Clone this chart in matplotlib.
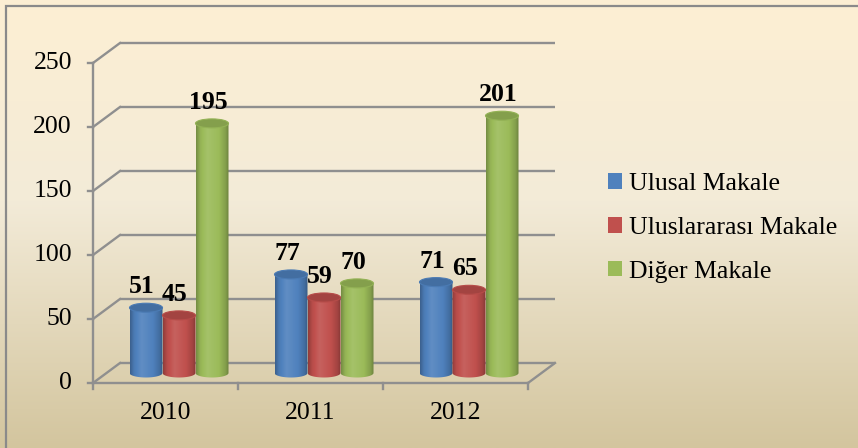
import numpy as np
import matplotlib
matplotlib.use("Agg")
import matplotlib.pyplot as plt
from matplotlib.patches import Ellipse, Rectangle, Patch, PathPatch
from matplotlib.path import Path
from matplotlib.colors import to_rgb

plt.rcParams['font.family'] = ['Liberation Serif', 'DejaVu Serif']

# --- data ---
years = ["2010", "2011", "2012"]
series = ["Ulusal Makale", "Uluslararası Makale", "Diğer Makale"]
ulusal = [51, 77, 71]
uluslararasi = [45, 59, 65]
diger = [195, 70, 201]
colors = ["#4F81BD", "#C0504D", "#9BBB59"]
yticks = [0, 50, 100, 150, 200, 250]

values = [ulusal, uluslararasi, diger]

# --- figure & pseudo 3D geometry ---
W, H = 858, 448
fig = plt.figure(figsize=(W / 100, H / 100), dpi=100)
fig.patch.set_facecolor("white")

# background gradient
bg = fig.add_axes([0, 0, 1, 1], zorder=0)
bg.set_axis_off()
stops = np.array([[253, 239, 211], [243, 235, 216], [211, 197, 158]]) / 255
pos = np.array([0.0, 0.45, 1.0])
yy = np.linspace(0, 1, 300)
grad = np.stack([np.interp(yy, pos, stops[:, c]) for c in range(3)], axis=1)
bg.imshow(grad[:, None, :], aspect="auto", extent=[0, 1, 0, 1], origin="upper")
bg.set_xlim(0, 1)
bg.set_ylim(0, 1)
bg.add_patch(Rectangle((6 / W, -0.1), 1.2, 1 - 6 / H + 0.1, fill=False,
                       edgecolor="#8a8a8a", lw=1.6, transform=bg.transAxes))

ax = fig.add_axes([0, 0, 1, 1], zorder=1)
ax.set_axis_off()
ax.patch.set_alpha(0)
# front plane: x 0..3 -> px 93..528, y 0..250 -> px 383..63
px_per_cat = 145.0
px_per_val = 1.28
ax.set_xlim(-93 / px_per_cat, (W - 93) / px_per_cat)
ax.set_ylim((383 - H) / px_per_val, 383 / px_per_val)

DX = 27 / px_per_cat
DY = 20 / px_per_val
grid_c = "#8f8f8f"
n = len(years)
fs = 18.5

for v in yticks:
    ax.plot([DX, n + DX], [v + DY, v + DY], color=grid_c, lw=1.7, zorder=2, solid_capstyle="butt")
    ax.plot([0, DX], [v, v + DY], color=grid_c, lw=1.7, zorder=2)
    ax.plot([-5 / px_per_cat, 0], [v, v], color=grid_c, lw=1.7, zorder=2)
    ax.text(-21 / px_per_cat, v, str(v), ha="right", va="center", fontsize=fs)
ax.plot([0, 0], [0, yticks[-1]], color=grid_c, lw=1.7, zorder=2)
ax.plot([0, n], [0, 0], color=grid_c, lw=1.7, zorder=2)
ax.plot([n, n + DX], [0, DY], color=grid_c, lw=1.7, zorder=2)
for i in range(n + 1):
    ax.plot([i, i], [0, -6 / px_per_val], color=grid_c, lw=1.7, zorder=2)
for i, y in enumerate(years):
    ax.text(i + 0.5, -30 / px_per_val, y, ha="center", va="center", fontsize=fs)


def shade(col, f):
    c = np.array(to_rgb(col))
    if f >= 0:
        return c + (1 - c) * f
    return c * (1 + f)


bw = 33 / px_per_cat
eh = 9 / px_per_val
tt = np.linspace(0, 1, 64)
prof = np.interp(tt, [0, 0.12, 0.35, 0.7, 0.9, 1.0], [-0.25, -0.05, 0.1, 0.0, -0.15, -0.3])

for s in range(len(series)):
    for i in range(n):
        v = values[s][i]
        x0 = i + 0.5 + DX / 2 - 1.5 * bw + s * bw
        y0 = DY / 2
        top = y0 + v
        th = np.linspace(np.pi, 2 * np.pi, 40)
        bx = x0 + bw / 2 + bw / 2 * np.cos(th)
        by = y0 + eh / 2 * np.sin(th)
        verts = list(zip(bx, by)) + [(x0 + bw, top), (x0, top), (bx[0], by[0])]
        codes = [Path.MOVETO] + [Path.LINETO] * (len(verts) - 2) + [Path.CLOSEPOLY]
        body = PathPatch(Path(verts, codes), facecolor="none", edgecolor="none", zorder=3)
        ax.add_patch(body)
        img = np.stack([shade(colors[s], f) for f in prof])[None, :, :]
        im = ax.imshow(img, aspect="auto", extent=[x0, x0 + bw, y0 - eh, top],
                       zorder=3, interpolation="bilinear")
        im.set_clip_path(body)
        ax.add_patch(Ellipse((x0 + bw / 2, top), bw, eh, angle=0,
                             facecolor=shade(colors[s], -0.15),
                             edgecolor=shade(colors[s], -0.05), lw=0.8, zorder=4))
        ax.text(x0 + bw / 2 - 4 / px_per_cat, top + 21 / px_per_val, str(v),
                ha="center", va="center", fontsize=fs, fontweight="bold", zorder=5)

ax.set_xlim(-93 / px_per_cat, (W - 93) / px_per_cat)
ax.set_ylim((383 - H) / px_per_val, 383 / px_per_val)

handles = [Patch(facecolor=c, edgecolor="none") for c in colors]
fig.legend(handles, series, loc="center left", bbox_to_anchor=(590 / W, 1 - 228 / H),
           frameon=False, fontsize=fs, handlelength=0.55, handleheight=0.55,
           handletextpad=0.25, labelspacing=0.85, borderpad=0.2)

fig.savefig("out.png", dpi=100)
